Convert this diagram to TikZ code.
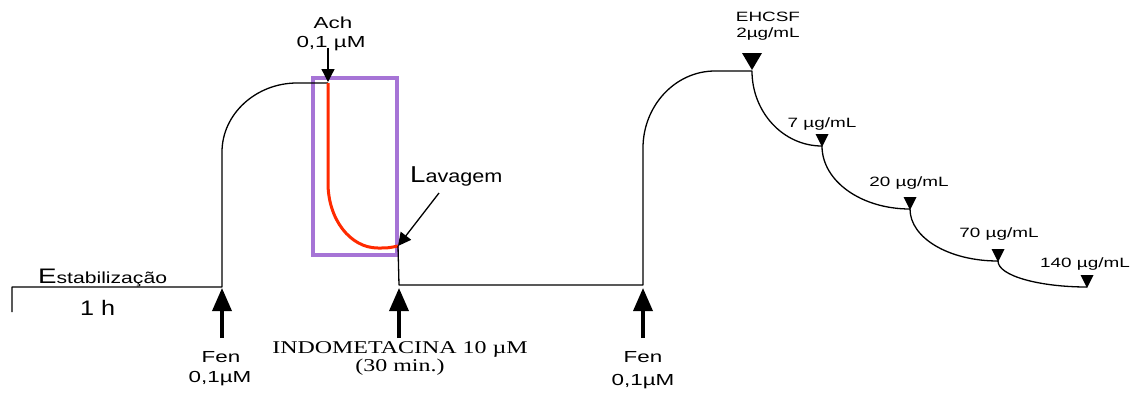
\documentclass[tikz,border=0pt]{standalone}
\usepackage{fontspec}
\setmainfont{Liberation Sans}
\newfontfamily\wsans[FakeStretch=1.4]{Liberation Sans}
\newfontfamily\msans[FakeStretch=1.2]{Liberation Sans}
\newfontfamily\esans[FakeStretch=1.32]{Liberation Sans}
\newfontfamily\wserif[FakeStretch=1.33]{Liberation Serif}
\usetikzlibrary{arrows.meta}
\definecolor{lilac}{HTML}{A674D6}
\definecolor{redtrace}{HTML}{FF2A00}
\newcommand{\fs}[1]{\fontsize{#1}{#1}\selectfont}
\begin{document}
\begin{tikzpicture}[x=1pt,y=-1pt,
  trace/.style={line width=1.3pt,black,line join=round},
  redline/.style={line width=3pt,redtrace},
  bigarrow/.style={line width=3.5pt,-{Triangle[width=19pt,length=23pt]}},
  smallarrow/.style={line width=1.3pt,-{Triangle[width=13pt,length=13pt]}},
  lbl/.style={inner sep=0pt,anchor=base},
  lblw/.style={inner sep=0pt,anchor=base west},
  dosemark/.style={fill=black}]
\useasboundingbox (0,0) rectangle (1141,392);
% key points
\coordinate (t0) at (12,312);
\coordinate (b0) at (12,287);
\coordinate (f1) at (222,287);
\coordinate (f1t) at (222,152);
\coordinate (pk1) at (297,83);
\coordinate (ach) at (328,83);
\coordinate (rk) at (328,183);
\coordinate (rb) at (378,248);
\coordinate (wash) at (398,246);
\coordinate (ind) at (399,285);
\coordinate (f2) at (643,285);
\coordinate (f2t) at (643,148);
\coordinate (pk2) at (715,71);
\coordinate (p0) at (752,71);
\coordinate (p1) at (822,146);
\coordinate (p2) at (910,209);
\coordinate (p3) at (998,261);
\coordinate (p4) at (1087,287);
% purple box
\node[draw=lilac,line width=4pt,inner sep=0pt,minimum width=84pt,minimum height=177pt] (box) at (355,166.5) {};
% trace
\draw[trace] (t0) -- (b0) -- (f1) -- (f1t)
  .. controls (222,114) and (256,83) .. (pk1) -- (ach);
\draw[redline] (ach) -- (rk) .. controls (328,219) and (350,248) .. (rb)
  .. controls (388,248) .. (wash);
\draw[trace] (wash) -- (ind) -- (f2) -- (f2t)
  .. controls (643,106) and (675,71) .. (pk2) -- (p0)
  .. controls (752,112) and (783,146) .. (p1)
  .. controls (822,181) and (861,209) .. (p2)
  .. controls (910,238) and (949,261) .. (p3)
  .. controls (998,276) and (1040,287) .. (p4);
% dose markers
\fill[dosemark] (752,70) -- ++(-10,-17) -- ++(20,0) -- cycle;
\foreach \p in {p1,p2,p3,p4}{
  \fill[dosemark] ([yshift=-1pt]\p) -- ++(-6.5,-13) -- ++(13,0) -- cycle;
}
% arrows
\coordinate (fa1) at (222,338);
\coordinate (fa1t) at (222,288);
\coordinate (ia) at (399,338);
\coordinate (iat) at (399,288);
\coordinate (fa2) at (643,338);
\coordinate (fa2t) at (643,288);
\draw[bigarrow] (fa1) -- (fa1t);
\draw[bigarrow] (ia) -- (iat);
\draw[bigarrow] (fa2) -- (fa2t);
\coordinate (acha) at (328,48);
\coordinate (achat) at (328,82);
\draw[smallarrow] (acha) -- (achat);
\coordinate (lava) at (439,193);
\draw[smallarrow] (lava) -- (wash);
% labels
\node[lblw] (estab) at (38,283) {\esans{\fs{21}E}{\fs{16}stabilização}};
\node[lblw] (hour) at (80,315) {\msans\fs{21}1 h};
\node[lbl] (achl) at (333,28) {\wsans\fs{16}Ach};
\node[lbl] (achc) at (331,47) {\wsans\fs{16}0,1 µM};
\node[lblw] (lavl) at (410,182) {\msans{\fs{23}L}{\fs{18}avagem}};
\node[lbl] (fen1) at (221,362) {\wsans\fs{16}Fen};
\node[lbl] (fen1c) at (220,382) {\wsans\fs{16}0,1µM};
\node[lbl] (indl) at (400,353) {\wserif\fs{18}INDOMETACINA 10 µM};
\node[lbl] (indt) at (400,371) {\wserif\fs{18}(30 min.)};
\node[lbl] (fen2) at (643,362) {\wsans\fs{16}Fen};
\node[lbl] (fen2c) at (643,385) {\wsans\fs{16}0,1µM};
\node[lbl] (ehcsf) at (768,21) {\wsans\fs{13.5}EHCSF};
\node[lbl] (ehc) at (768,37) {\wsans\fs{13.5}2µg/mL};
\node[lbl] (d1) at (822,127) {\wsans\fs{13.5}7 µg/mL};
\node[lbl] (d2) at (909,186) {\wsans\fs{13.5}20 µg/mL};
\node[lbl] (d3) at (999,237) {\wsans\fs{13.5}70 µg/mL};
\node[lbl] (d4) at (1085,267) {\wsans\fs{13.5}140 µg/mL};
\end{tikzpicture}
\end{document}
